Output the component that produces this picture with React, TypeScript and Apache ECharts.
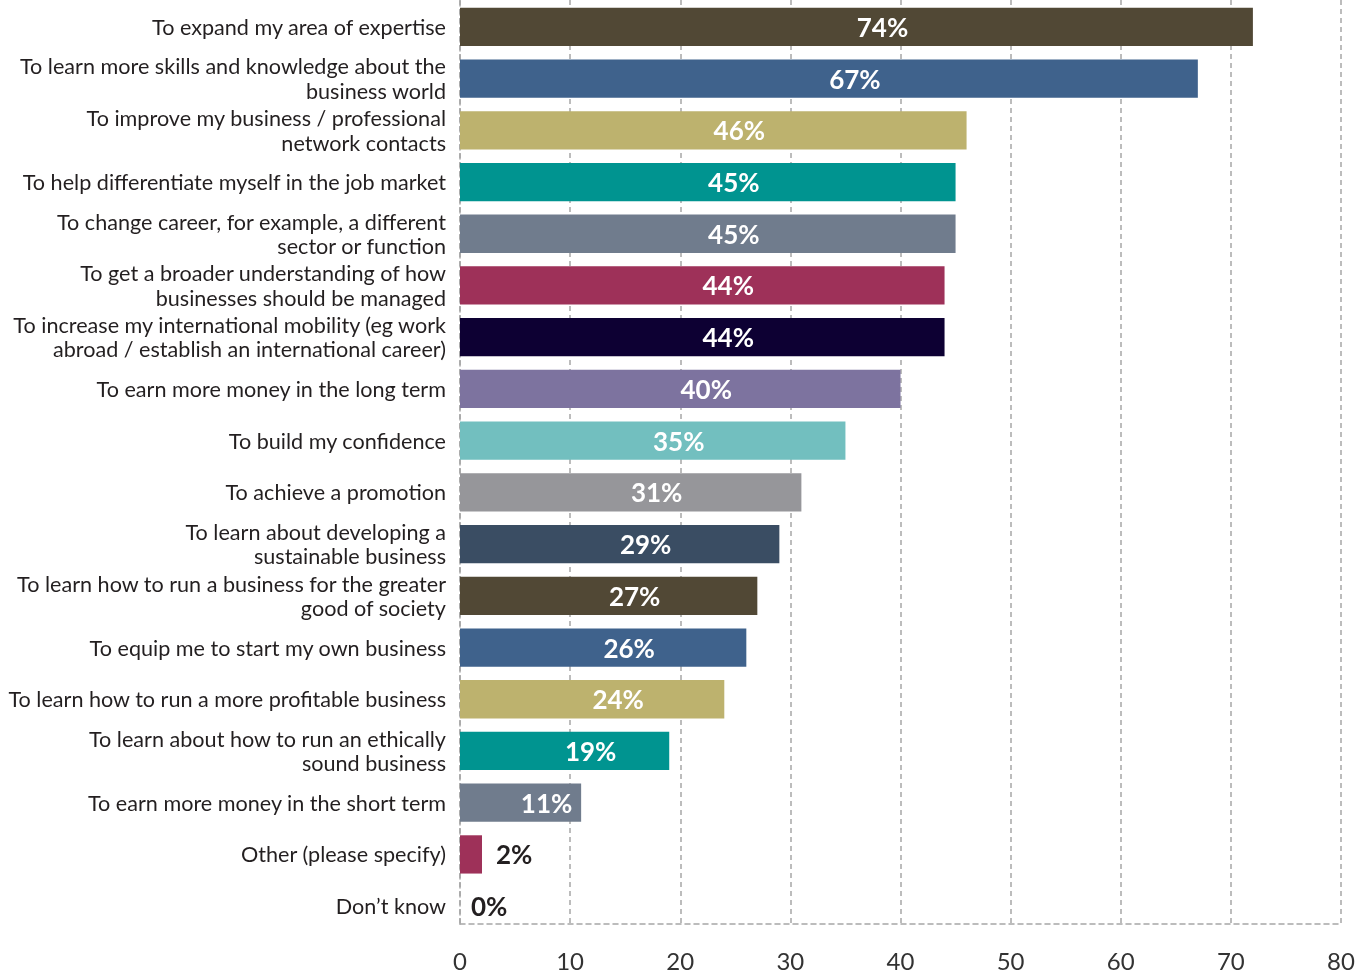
import React, { useEffect, useRef } from "react";
import * as echarts from "echarts";

const categories: string[] = [
  "To expand my area of expertise",
  "To learn more skills and knowledge about the\nbusiness world",
  "To improve my business / professional\nnetwork contacts",
  "To help differentiate myself in the job market",
  "To change career, for example, a different\nsector or function",
  "To get a broader understanding of how\nbusinesses should be managed",
  "To increase my international mobility (eg work\nabroad / establish an international career)",
  "To earn more money in the long term",
  "To build my confidence",
  "To achieve a promotion",
  "To learn about developing a\nsustainable business",
  "To learn how to run a business for the greater\ngood of society",
  "To equip me to start my own business",
  "To learn how to run a more profitable business",
  "To learn about how to run an ethically\nsound business",
  "To earn more money in the short term",
  "Other (please specify)",
  "Don\u2019t know",
];

// bar lengths as drawn in the reference
const values: number[] = [72, 67, 46, 45, 45, 44, 44, 40, 35, 31, 29, 27, 26, 24, 19, 11, 2, 0];

// value labels as printed in the reference
const valueLabels: string[] = [
  "74%", "67%", "46%", "45%", "45%", "44%", "44%", "40%", "35%",
  "31%", "29%", "27%", "26%", "24%", "19%", "11%", "2%", "0%",
];

const barColors: string[] = [
  "#514835", "#3f628c", "#bdb26e", "#009490", "#707c8d", "#9e3159",
  "#0d0033", "#7d739f", "#72bfbf", "#96969a", "#3a4d63", "#514835",
  "#3f628c", "#bdb26e", "#009490", "#707c8d", "#9e3159", "#707c8d",
];

const xTicks = { min: 0, max: 80, interval: 10 };

const FONT = "Lato, 'Noto Sans', sans-serif";

export default function App() {
  const ref = useRef<HTMLDivElement>(null);

  useEffect(() => {
    if (!ref.current) return;
    const chart = echarts.init(ref.current, null, { renderer: "svg" });
    const dashed = { color: "#a6a6a6", width: 1.5, type: [5, 4] as number[] };
    chart.setOption({
      animation: false,
      grid: [
        // bars
        {
          left: 460, right: 29, top: 1, bottom: 42,
          containLabel: false, outerBoundsMode: "none",
        },
        // frame: dashed grid lines and value axis
        {
          left: 460, right: 29, top: 0, bottom: 50,
          containLabel: false, outerBoundsMode: "none",
        },
      ],
      xAxis: [
        {
          gridIndex: 0,
          type: "value",
          min: xTicks.min,
          max: xTicks.max,
          interval: xTicks.interval,
          show: false,
        },
        {
          gridIndex: 1,
          type: "value",
          min: xTicks.min,
          max: xTicks.max,
          interval: xTicks.interval,
          axisLine: { show: true, lineStyle: dashed },
          axisTick: { show: false },
          splitLine: { show: true, lineStyle: dashed },
          axisLabel: {
            color: "#333333",
            fontSize: 24,
            fontFamily: FONT,
            margin: 24,
          },
        },
      ],
      yAxis: [
        {
          gridIndex: 0,
          type: "category",
          inverse: true,
          data: categories,
          axisLine: { show: false },
          axisTick: { show: false },
          splitLine: { show: false },
          axisLabel: {
            color: "#231f20",
            fontSize: 21.6,
            fontFamily: FONT,
            lineHeight: 24.5,
            margin: 14,
            align: "right",
          },
        },
        {
          gridIndex: 1,
          type: "value",
          min: 0,
          max: 1,
          axisLine: { show: true, lineStyle: dashed },
          axisTick: { show: false },
          axisLabel: { show: false },
          splitLine: { show: false },
        },
      ],
      series: [
        {
          type: "bar",
          xAxisIndex: 0,
          yAxisIndex: 0,
          z: 3,
          barCategoryGap: "26%",
          data: values.map((v, i) => {
            const outside = v < 5;
            return {
              value: v,
              itemStyle: { color: barColors[i] },
              label: outside
                ? {
                    show: true,
                    position: "right",
                    distance: v === 0 ? 11 : 14,
                    color: "#231f20",
                  }
                : {
                    show: true,
                    position: "inside",
                    offset: [26, 0],
                    color: "#ffffff",
                  },
            };
          }),
          label: {
            show: true,
            fontSize: 26,
            fontWeight: "bold",
            fontFamily: FONT,
            formatter: (p: any) => valueLabels[p.dataIndex],
          },
        },
      ],
    });
    return () => chart.dispose();
  }, []);

  return (
    <div
      ref={ref}
      style={{ position: "fixed", left: 0, top: 0, width: 1370, height: 974 }}
    />
  );
}
